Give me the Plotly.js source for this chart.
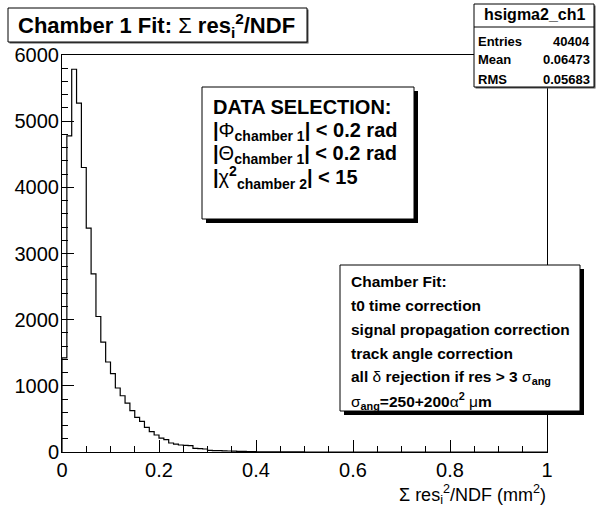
<!DOCTYPE html>
<html>
<head>
<meta charset="utf-8">
<script src="https://cdn.plot.ly/plotly-3.0.1.min.js"></script>
<style>
  html, body { margin: 0; padding: 0; background: #fff; }
  #chart { width: 596px; height: 508px; }
</style>
</head>
<body>
<div id="chart"></div>
<script>
// ---- data ----
const binWidth = 0.01;
const binCounts = [
  1424, 4778, 5785, 5272, 4300, 3384, 2693, 2048, 1662, 1360,
  1183, 967, 850, 740, 624, 523, 462, 372, 307, 257,
  211, 186, 136, 118, 106, 100, 95, 54, 50, 45,
  25, 22, 20, 18, 15, 12, 10, 8, 6, 5,
  4, 3, 3, 2, 2, 1, 1, 1, 1, 1,
  0, 0, 0, 0, 0, 0, 0, 0, 0, 0,
  0, 0, 0, 0, 0, 0, 0, 0, 0, 0,
  0, 0, 0, 0, 0, 0, 0, 0, 0, 0,
  0, 0, 0, 0, 0, 0, 0, 0, 0, 0,
  0, 0, 0, 0, 0, 0, 0, 0, 0, 0
];
const statsName = "hsigma2_ch1";
const statsLabels = ["Entries", "Mean", "RMS"];
const statsValues = ["40404", "0.06473", "0.05683"];
const selectionLines = [
  "DATA SELECTION:",
  "|<span style=\"font-weight:normal\">Φ</span><sub>chamber 1</sub>| < 0.2 rad",
  "|<span style=\"font-weight:normal\">Θ</span><sub>chamber 1</sub>| < 0.2 rad",
  "|<span style=\"font-weight:normal\">χ</span><sup>2</sup><sub>chamber 2</sub>| < 15"
];
const fitLines = [
  "Chamber Fit:",
  "t0 time correction",
  "signal propagation correction",
  "track angle correction",
  "all <span style=\"font-weight:normal\">δ</span> rejection if res > 3 <span style=\"font-weight:normal\">σ</span><sub>ang</sub>",
  "<span style=\"font-weight:normal\">σ</span><sub>ang</sub>=250+200<span style=\"font-weight:normal\">α</span><sup>2</sup> <span style=\"font-weight:normal\">μ</span>m"
];

// ---- build step outline through the axis scales ----
const xs = [0], ys = [0];
binCounts.forEach((c, i) => { xs.push(i * binWidth); ys.push(c); });
xs.push(binCounts.length * binWidth); ys.push(binCounts[binCounts.length - 1]);

// ---- layout helpers (pixel -> paper) ----
const W = 596, H = 508, ML = 62, MR = 49, MT = 55, MB = 56;
const PW = W - ML - MR, PH = H - MT - MB;
const px = x => (x - ML) / PW;
const py = y => (H - MB - y) / PH;
const FONT = "Liberation Sans, Arial, Helvetica, sans-serif";

function box(x0, y0, x1, y1, shadow, shadowColor) {
  const s = [];
  if (shadow) {
    s.push({type: "rect", xref: "paper", yref: "paper",
      x0: px(x0 + shadow), x1: px(x1 + shadow), y0: py(y1 + shadow), y1: py(y0 + shadow),
      fillcolor: shadowColor, line: {width: 0}, layer: "above"});
  }
  s.push({type: "rect", xref: "paper", yref: "paper",
    x0: px(x0), x1: px(x1), y0: py(y1), y1: py(y0),
    fillcolor: "white", line: {color: "black", width: 1}, layer: "above"});
  return s;
}
function txt(text, x, y, size, anchor, bold) {
  return {xref: "paper", yref: "paper", x: px(x), y: py(y), xanchor: anchor, yanchor: "middle",
    text: bold ? "<b>" + text + "</b>" : text, showarrow: false,
    font: {family: FONT, size: size, color: "black"}, borderpad: 0};
}

const shapes = [].concat(
  box(8, 8, 307, 42, 1.5, "#555"),
  box(474, 4, 594, 87, 1.5, "#555"),
  [{type: "line", xref: "paper", yref: "paper", x0: px(474), x1: px(594), y0: py(27), y1: py(27),
    line: {color: "black", width: 1}, layer: "above"}],
  box(202, 87, 414, 219, 4, "black"),
  box(340, 265, 580, 411, 4, "black")
);

const annotations = [
  txt("Chamber 1 Fit: <span style=\"font-weight:normal\">Σ</span> res<sub>i</sub><sup>2</sup>/NDF", 17, 25, 22, "left", true),
  txt(statsName, 534, 15, 16, "center", true),
  txt("Σ res<sub>i</sub><sup>2</sup>/NDF (mm<sup>2</sup>)", 547, 494, 18, "right", false)
];
statsLabels.forEach((l, i) => {
  annotations.push(txt(l, 477, 41 + i * 19, 13, "left", true));
  annotations.push(txt(statsValues[i], 591, 41 + i * 19, 13, "right", true));
});
const selY = [107, 131, 154, 177];
selectionLines.forEach((l, i) => annotations.push(txt(l, 212, selY[i], 20, "left", true)));
fitLines.forEach((l, i) => annotations.push(txt(l, 350, 281 + i * 24, 15.5, "left", true)));

const data = [{
  type: "scatter", mode: "lines", x: xs, y: ys,
  line: {shape: "hv", color: "black", width: 1.2},
  hoverinfo: "skip", showlegend: false
}];

const axisCommon = {
  showline: true, linecolor: "black", linewidth: 1, mirror: true,
  showgrid: false, zeroline: false, ticks: "inside", tickcolor: "black",
  tickfont: {family: FONT, size: 20, color: "black"}
};

const layout = {
  width: W, height: H,
  margin: {l: ML, r: MR, t: MT, b: MB, pad: 0},
  paper_bgcolor: "white", plot_bgcolor: "white",
  showlegend: false,
  xaxis: Object.assign({}, axisCommon, {
    range: [0, 1], dtick: 0.2, tick0: 0, ticklen: 12,
    minor: {dtick: 0.05, ticks: "inside", ticklen: 6, tickcolor: "black", showgrid: false}
  }),
  yaxis: Object.assign({}, axisCommon, {
    range: [0, 6000], dtick: 1000, tick0: 0, ticklen: 12, ticklabelstandoff: -2,
    minor: {dtick: 200, ticks: "inside", ticklen: 6, tickcolor: "black", showgrid: false}
  }),
  shapes: shapes,
  annotations: annotations
};

Plotly.newPlot("chart", data, layout, {staticPlot: true, displayModeBar: false});
</script>
</body>
</html>
